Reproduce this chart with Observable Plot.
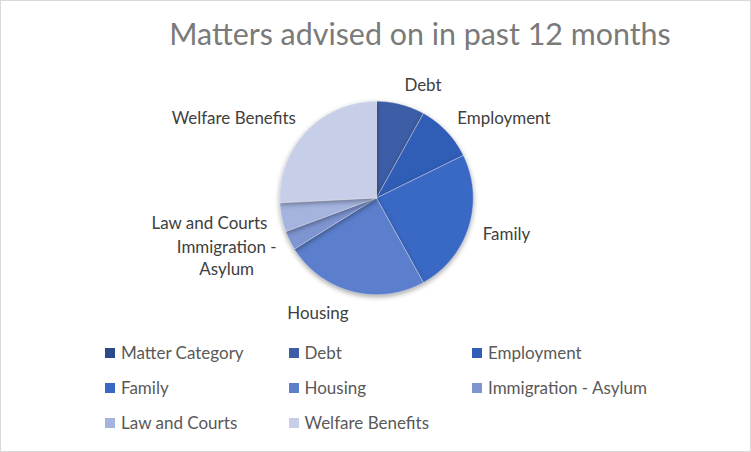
<!DOCTYPE html>
<html>
<head>
<meta charset="utf-8">
<script src="https://cdn.jsdelivr.net/npm/d3@7"></script>
<script src="https://cdn.jsdelivr.net/npm/@observablehq/plot@0.6"></script>
<style>
  html, body { margin: 0; padding: 0; background: #fff; }
  #chart { position: relative; width: 749px; height: 450px; border: 1px solid #d9d9d9; overflow: hidden; font-family: Lato, "Open Sans", sans-serif; }
  #title { position: absolute; left: 0; width: 838px; top: 14px; text-align: center; font-size: 30.4px; color: #7a7a7a; white-space: nowrap; }
  #pie { position: absolute; left: 0; top: 0; }
  #legend { position: absolute; left: 104px; top: 334px; width: 560px; }
  .lg-swatches { margin: 0 !important; min-height: 0 !important; }
  .lg-swatch { width: 183.5px !important; height: 35px !important; margin: 0 !important; font-size: 17px !important; color: #595959 !important; font-family: Lato, "Open Sans", sans-serif !important; }
  .lg-swatch > svg { margin-right: 6px !important; }
  .slices path { filter: drop-shadow(0px 2px 2.5px rgba(0,0,0,0.35)); }
</style>
</head>
<body>
<div id="chart">
  <div id="pie"></div>
  <div id="title">Matters advised on in past 12 months</div>
  <div id="legend"></div>
</div>
<script>
// ---- data ----
const categories = ["Matter Category", "Debt", "Employment", "Family", "Housing", "Immigration - Asylum", "Law and Courts", "Welfare Benefits"];
const values = [0, 5, 6, 15, 15, 2, 3, 16];
const pieLabels = ["", "Debt", "Employment", "Family", "Housing", "Immigration -\nAsylum", "Law and Courts", "Welfare Benefits"];
const palette = ["#2b4a8a", "#3d5ea6", "#305db5", "#3a69c5", "#5b7fcc", "#7e95d2", "#a4b4df", "#c7cee7"];

// ---- layout ----
const W = 751, H = 330, cx = 376, cy = 197, R = 97;
const rx = 1.15, ry = 1.22, fontPx = 17, lineH = 22, gap = 2;

const arcs = d3.pie().sort(null).value(d => d.value)(categories.map((c, i) => ({category: c, value: values[i], label: pieLabels[i]})));

// polygon points for each slice (unit radius, y up)
const slicePts = [];
for (const a of arcs) {
  if (a.endAngle - a.startAngle <= 0) continue;
  const c = a.data.category;
  slicePts.push({category: c, x: 0, y: 0});
  const n = Math.max(2, Math.ceil((a.endAngle - a.startAngle) / 0.01));
  for (let k = 0; k <= n; k++) {
    const t = a.startAngle + (a.endAngle - a.startAngle) * k / n;
    slicePts.push({category: c, x: Math.sin(t), y: Math.cos(t)});
  }
  slicePts.push({category: c, x: 0, y: 0});
}

// label blocks (pixel space), centered multi-line, with simple collision avoidance per side
const ctx = document.createElement("canvas").getContext("2d");
ctx.font = fontPx + "px Lato";
const blocks = arcs.filter(a => a.value > 0).map(a => {
  const m = (a.startAngle + a.endAngle) / 2;
  const sx = Math.sin(m), sy = Math.cos(m);
  const lines = a.data.label.split("\n");
  const w = Math.max(...lines.map(s => ctx.measureText(s).width));
  const side = sx >= 0 ? 1 : -1;
  const h = lines.length * lineH;
  return {label: a.data.label, side, px: cx + rx * sx * R + side * w / 2, py: cy - ry * sy * R, h};
});
for (const side of [-1, 1]) {
  const group = blocks.filter(b => b.side === side).sort((a, b) => a.py - b.py);
  let prevBottom = -Infinity;
  for (const b of group) {
    const top = b.py - b.h / 2;
    if (top < prevBottom + gap) b.py += prevBottom + gap - top;
    prevBottom = b.py + b.h / 2;
  }
}
const labels = blocks.map(b => ({label: b.label, x: (b.px - cx) / R, y: (cy - b.py) / R}));

const xDom = [-cx / R, (W - cx) / R];
const yDom = [-(H - cy) / R, cy / R];

const plot = Plot.plot({
  width: W, height: H,
  marginTop: 0, marginBottom: 0, marginLeft: 0, marginRight: 0,
  x: {domain: xDom, axis: null},
  y: {domain: yDom, axis: null},
  color: {type: "ordinal", domain: categories, range: palette},
  style: {background: "transparent", overflow: "visible"},
  marks: [
    Plot.line(slicePts, {x: "x", y: "y", z: "category", fill: "category", stroke: "#ffffff", strokeOpacity: 0.45, strokeWidth: 0.8, curve: "linear-closed", className: "slices"}),
    Plot.text(labels, {x: "x", y: "y", text: "label", textAnchor: "middle", lineAnchor: "middle", lineHeight: lineH / fontPx, fontSize: fontPx, fill: "#404040", fontFamily: "Lato, 'Open Sans', sans-serif"})
  ]
});
document.getElementById("pie").appendChild(plot);

const legend = Plot.legend({
  legend: "swatches",
  color: {type: "ordinal", domain: categories, range: palette},
  swatchSize: 10,
  className: "lg"
});
document.getElementById("legend").appendChild(legend);
</script>
</body>
</html>
